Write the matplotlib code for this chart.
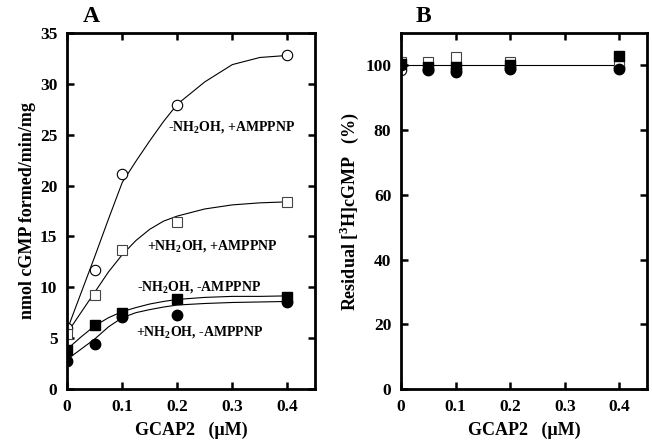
import numpy as np
import matplotlib
matplotlib.use("Agg")
import matplotlib.pyplot as plt

plt.rcParams['font.family'] = ['Liberation Serif', 'DejaVu Serif']
plt.rcParams['font.weight'] = 'bold'
plt.rcParams['mathtext.fontset'] = 'custom'
plt.rcParams['mathtext.rm'] = 'Liberation Serif:bold'
plt.rcParams['mathtext.bf'] = 'Liberation Serif:bold'

# panel A: measured points
gcap = [0, 0.05, 0.1, 0.2, 0.4]
open_circ = [6.0, 11.7, 21.1, 27.9, 32.8]
open_sq = [5.4, 9.2, 13.7, 16.4, 18.4]
fill_sq = [3.8, 6.3, 7.5, 8.8, 9.0]
fill_circ = [2.7, 4.4, 7.1, 7.3, 8.5]

# panel A: fitted curves
fit_x = [0, 0.025, 0.05, 0.075, 0.1, 0.125, 0.15, 0.175, 0.2, 0.25, 0.3, 0.35, 0.4]
fit_open_circ = [5.8, 9.4, 13.0, 16.7, 20.3, 22.4, 24.4, 26.3, 28.0, 30.2, 31.9, 32.6, 32.8]
fit_open_sq = [5.5, 7.5, 9.5, 11.5, 13.2, 14.6, 15.7, 16.5, 17.0, 17.7, 18.1, 18.3, 18.4]
fit_fill_sq = [3.9, 5.1, 6.2, 7.0, 7.6, 8.0, 8.35, 8.6, 8.8, 9.0, 9.1, 9.1, 9.15]
fit_fill_circ = [2.9, 3.9, 4.9, 6.1, 7.0, 7.5, 7.8, 8.05, 8.25, 8.4, 8.5, 8.55, 8.6]

labels_a = [r"-NH$_2$OH, +AMPPNP", r"+NH$_2$OH, +AMPPNP",
            r"-NH$_2$OH, -AMPPNP", r"+NH$_2$OH, -AMPPNP"]
label_pos = [(0.184, 25.8), (0.145, 14.1), (0.127, 10.0), (0.125, 5.6)]

# panel B: residual [3H]cGMP (%)
b_open_circ = [98.5, 99.0, 99.0, 99.5, 99.5]
b_open_sq = [101.0, 101.0, 102.5, 101.0, 100.0]
b_fill_sq = [100.5, 99.5, 99.5, 100.0, 103.0]
b_fill_circ = [100.0, 98.5, 98.0, 99.0, 99.0]
b_fit = 100.0

fig = plt.figure(figsize=(6.52, 4.47), dpi=100)
axA = fig.add_axes([0.103, 0.130, 0.380, 0.796])
axB = fig.add_axes([0.615, 0.130, 0.377, 0.796])

ms = 7.5
def style(ax):
    for s in ax.spines.values():
        s.set_linewidth(2)
    ax.tick_params(direction='in', length=5, width=1.8, top=True, right=True,
                   labelsize=12.5, pad=7)
    for t in ax.get_xticklabels() + ax.get_yticklabels():
        t.set_fontweight('bold')

# panel A
for fy in [fit_open_circ, fit_open_sq, fit_fill_sq, fit_fill_circ]:
    axA.plot(fit_x, fy, color='black', lw=0.8)
axA.plot(gcap, open_circ, 'o', mfc='white', mec='black', mew=0.8, ms=ms)
axA.plot(gcap, open_sq, 's', mfc='white', mec='#444444', mew=0.8, ms=ms)
axA.plot(gcap, fill_sq, 's', color='black', ms=ms)
axA.plot(gcap, fill_circ, 'o', color='black', ms=ms)
for lab, (x, y) in zip(labels_a, label_pos):
    axA.text(x, y, lab, fontsize=10, fontweight='bold', va='center', ha='left')

axA.set_xlim(0, 0.45)
axA.set_ylim(0, 35)
axA.set_xticks([0, 0.1, 0.2, 0.3, 0.4])
axA.set_xticklabels(['0', '0.1', '0.2', '0.3', '0.4'])
axA.set_yticks(range(0, 36, 5))
axA.set_xlabel('GCAP2   (\u03bcM)', fontsize=13, fontweight='bold', labelpad=5)
axA.set_ylabel('nmol cGMP formed/min/mg', fontsize=13, fontweight='bold', labelpad=3)
style(axA)
fig.text(0.140, 0.962, 'A', fontsize=17, fontweight='bold', ha='center', va='center')

# panel B
axB.plot([gcap[0], gcap[-1]], [b_fit, b_fit], color='black', lw=0.8)
axB.plot(gcap, b_open_circ, 'o', mfc='white', mec='black', mew=0.8, ms=ms)
axB.plot(gcap, b_open_sq, 's', mfc='white', mec='#444444', mew=0.8, ms=ms)
axB.plot(gcap, b_fill_sq, 's', color='black', ms=ms)
axB.plot(gcap, b_fill_circ, 'o', color='black', ms=ms)
axB.set_xlim(0, 0.45)
axB.set_ylim(0, 110)
axB.set_xticks([0, 0.1, 0.2, 0.3, 0.4])
axB.set_xticklabels(['0', '0.1', '0.2', '0.3', '0.4'])
axB.set_yticks(range(0, 101, 20))
axB.set_xlabel('GCAP2   (\u03bcM)', fontsize=13, fontweight='bold', labelpad=5)
axB.set_ylabel(r'Residual [$^3$H]cGMP   (%)', fontsize=13, fontweight='bold', labelpad=3)
style(axB)
fig.text(0.649, 0.962, 'B', fontsize=17, fontweight='bold', ha='center', va='center')

fig.savefig('out.png', dpi=100)
